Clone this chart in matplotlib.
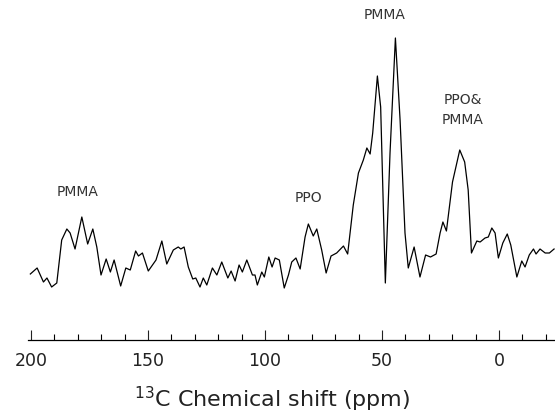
import matplotlib
matplotlib.use("Agg")
import matplotlib.pyplot as plt
from matplotlib.ticker import MultipleLocator

plt.rcParams["font.family"] = ["DejaVu Sans"]
plt.rcParams["mathtext.default"] = "regular"

# 13C CP/MAS spectrum (ppm, intensity in arbitrary units)
ppm = [200.3, 197.4, 194.7, 193.2, 191.2, 189.0, 186.9, 184.7, 183.3, 181.2,
       178.3, 175.8, 173.6, 171.9, 170.1, 167.9, 166.1, 164.5, 161.7, 159.5,
       157.6, 155.3, 154.1, 152.4, 149.9, 146.6, 144.1, 142.0, 139.2, 137.1,
       136.0, 134.6, 132.8, 130.9, 129.6, 127.8, 126.4, 124.9, 122.5, 120.6,
       118.5, 115.9, 114.5, 112.8, 111.1, 109.7, 107.8, 105.4, 104.3, 103.3,
       101.4, 100.3, 98.4, 97.0, 95.7, 93.9, 91.8, 90.0, 88.6, 86.8,
       85.0, 82.9, 81.5, 79.4, 77.9, 75.8, 73.9, 71.8, 69.4, 66.5,
       64.7, 62.3, 60.1, 58.0, 56.5, 55.1, 54.0, 52.0, 50.6, 48.6,
       46.6, 44.3, 42.3, 40.2, 38.8, 36.3, 33.8, 31.4, 29.3, 26.9,
       25.2, 24.0, 22.5, 19.9, 16.8, 14.7, 13.2, 11.8, 9.5, 8.1,
       6.0, 4.6, 3.1, 1.7, 0.3, -1.6, -3.5, -5.0, -7.6, -9.7,
       -11.1, -12.9, -14.7, -15.8, -17.5, -19.7, -21.5, -23.5]
intensity = [66, 72, 58, 62, 53, 57, 100, 111, 107, 91,
             123, 96, 111, 93, 65, 81, 68, 80, 54, 72,
             70, 89, 84, 87, 69, 80, 99, 76, 90, 93,
             91, 93, 73, 61, 62, 53, 62, 55, 72, 65,
             78, 62, 69, 59, 75, 68, 80, 65, 65, 55,
             68, 63, 83, 73, 82, 80, 52, 65, 78, 82,
             71, 103, 116, 104, 111, 90, 67, 84, 87, 94,
             86, 135, 167, 180, 192, 186, 207, 264, 233, 57,
             187, 302, 220, 107, 72, 93, 63, 85, 83, 86,
             107, 118, 109, 158, 190, 178, 150, 87, 99, 98,
             102, 103, 112, 107, 82, 97, 106, 95, 63, 79,
             73, 85, 91, 86, 91, 87, 87, 91]

# peak assignments: (label, ppm, intensity)
labels = ["PMMA", "PPO", "PMMA", "PPO&\nPMMA"]
label_ppm = [180.0, 81.5, 49.0, 15.5]
label_int = [148, 142, 325, 230]

xticks = [200, 150, 100, 50, 0]

fig = plt.figure(figsize=(5.55, 4.16), dpi=100)
ax = fig.add_axes([28 / 555, 76 / 416, 527 / 555, 330 / 416])

ax.plot(ppm, intensity, color="black", lw=0.9)

ax.set_xlim(201.3, -23.9)
ax.set_ylim(0, 330)

for lab, xp, yp in zip(labels, label_ppm, label_int):
    ax.text(xp, yp, lab, ha="center", va="center", fontsize=10,
            color="#333333", linespacing=1.5)

for side in ["top", "right", "left"]:
    ax.spines[side].set_visible(False)
ax.spines["bottom"].set_linewidth(0.9)
ax.set_yticks([])
ax.set_xticks(xticks)
ax.set_xticklabels([str(t) for t in xticks])
ax.xaxis.set_minor_locator(MultipleLocator(10))
ax.tick_params(axis="x", which="major", direction="in", length=7, width=0.8,
               pad=9, labelsize=12.5, colors="#222222")
ax.tick_params(axis="x", which="minor", direction="in", length=4, width=0.8)

fig.text(272 / 555, 1 - 399 / 416, r"$^{13}$C Chemical shift (ppm)",
         ha="center", va="center", fontsize=16, color="#222222")

fig.savefig("out.png", dpi=100)
